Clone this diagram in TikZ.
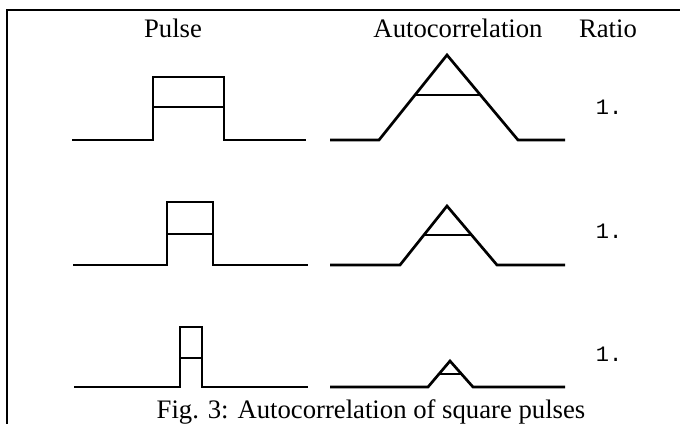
\documentclass[tikz,border=0pt]{standalone}
\usepackage{fontspec}
\setmainfont{Liberation Serif}
\newfontfamily\ratiofont{Liberation Mono}
\begin{document}
\begin{tikzpicture}[x=1pt,y=-1pt,
  sig/.style={line width=2.7pt, line join=miter},
  frameline/.style={line width=1.8pt},
  head/.style={anchor=base, inner sep=0pt, font=\fontsize{26.7}{30}\selectfont},
  ratio/.style={anchor=base, inner sep=0pt, font=\ratiofont\fontsize{22}{24}\selectfont},
  captext/.style={anchor=base, inner sep=0pt, font=\fontsize{26.7}{30}\selectfont}]
\useasboundingbox (0,0) rectangle (680,424);
% frame
\draw[frameline] (680,10) -- (7,10) -- (7,424);
% headers
\node[head] (hpulse) at (173,37) {Pulse};
\node[head] (hauto) at (458,37) {Autocorrelation};
\node[head] (hratio) at (608,37) {Ratio};
% row 1
\draw[sig] (72,140) -- (153,140) -- (153,77) -- (224,77) -- (224,140) -- (306,140);
\draw[sig] (153,107) -- (224,107);
\draw[sig] (330,140) -- (379,140) -- (447,55) -- (518,140) -- (565,140);
\draw[sig] (415,95) -- (480.4,95);
\node[ratio] (r1) at (609,114) {1.};
% row 2
\draw[sig] (73,265) -- (167,265) -- (167,202) -- (213,202) -- (213,265) -- (308,265);
\draw[sig] (167,234) -- (213,234);
\draw[sig] (330,265) -- (400,265) -- (447,206) -- (497,265) -- (565,265);
\draw[sig] (423.9,235) -- (471.6,235);
\node[ratio] (r2) at (609,238) {1.};
% row 3
\draw[sig] (74,387) -- (180,387) -- (180,327) -- (202,327) -- (202,387) -- (308,387);
\draw[sig] (180,358) -- (202,358);
\draw[sig] (330,387) -- (428,387) -- (450,361) -- (473,387) -- (565,387);
\draw[sig] (439,374) -- (461.5,374);
\node[ratio] (r3) at (609,361) {1.};
% caption
\node[captext] (caption) at (371,418) {Fig. 3: Autocorrelation of square pulses};
\end{tikzpicture}
\end{document}
